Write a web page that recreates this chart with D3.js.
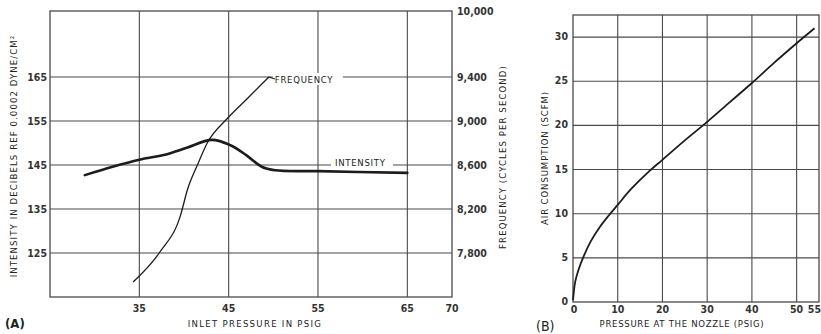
<!DOCTYPE html>
<html><head><meta charset="utf-8">
<script src="https://cdn.jsdelivr.net/npm/d3@7"></script>
<style>
body{margin:0;background:#fff;}
text{font-family:"DejaVu Sans Condensed","Liberation Sans Narrow","DejaVu Sans",sans-serif;fill:#222;}
.tk{font-weight:bold;fill:#333;}
</style></head><body>
<svg id="c" width="821" height="334"></svg>
<script>
// ---- Chart A data ----
const intensityPsig = [28.9, 32, 35, 38, 40.3, 43.1, 45.2, 47, 48.7, 50.2, 55, 65];
const intensityDb   = [142.7, 144.6, 146.2, 147.4, 148.9, 150.7, 149.5, 147.2, 144.6, 143.8, 143.6, 143.2];
const freqPsig = [34.3, 37.3, 39.6, 40.4, 41.5, 42.6, 44.9, 47.1, 49.5];
const freqHz   = [7536, 7809, 8140, 8380, 8600, 8800, 9027, 9205, 9400];
const aXTicks = [35, 45, 55, 65, 70];
const aLeftTicks = [125, 135, 145, 155, 165];
const aRightTicks = [7800, 8200, 8600, 9000, 9400, 10000];
// ---- Chart B data ----
const nozzlePsig = [0, 0.5, 1.2, 2.4, 4, 6, 8, 10, 13, 17, 20, 25, 30, 35, 40, 45, 50, 54];
const airScfm    = [0.2, 2.3, 3.6, 5.2, 6.9, 8.5, 9.8, 11, 12.8, 14.8, 16.1, 18.3, 20.4, 22.6, 24.8, 27.1, 29.3, 31];
const bXTicks = [0, 10, 20, 30, 40, 50, 55];
const bYTicks = [0, 5, 10, 15, 20, 25, 30];

const svg = d3.select("#c");
const grid = "#4a4a4a";

// ===== Chart A =====
const ax = d3.scaleLinear().domain([25, 70]).range([50, 452]);
const ay = d3.scaleLinear().domain([115, 180]).range([297, 11]);
const ayF = d3.scaleLinear().domain([7400, 10000]).range([297, 11]);
const A = svg.append("g");
A.append("rect").attr("x", ax(25)).attr("y", ay(180)).attr("width", ax(70) - ax(25)).attr("height", ay(115) - ay(180))
  .attr("fill", "none").attr("stroke", grid).attr("stroke-width", 1.3);
A.selectAll(".vg").data([35, 45, 55, 65]).join("line")
  .attr("x1", d => ax(d)).attr("x2", d => ax(d)).attr("y1", ay(180)).attr("y2", ay(115))
  .attr("stroke", grid).attr("stroke-width", 1.1);
A.selectAll(".hg").data(aLeftTicks).join("line")
  .attr("x1", ax(25)).attr("x2", ax(70)).attr("y1", d => ay(d)).attr("y2", d => ay(d))
  .attr("stroke", grid).attr("stroke-width", 1.1);
A.selectAll(".lt").data(aLeftTicks).join("text").attr("class", "tk").attr("x", 47).attr("y", d => ay(d) + 4)
  .attr("text-anchor", "end").attr("font-size", 10.5).text(d => d);
A.selectAll(".rt").data(aRightTicks).join("text").attr("class", "tk").attr("x", 457).attr("y", d => ayF(d) + 4)
  .attr("text-anchor", "start").attr("font-size", 10.5).text(d => d3.format(",")(d));
A.selectAll(".bt").data(aXTicks).join("text").attr("class", "tk").attr("x", d => ax(d)).attr("y", 312)
  .attr("text-anchor", "middle").attr("font-size", 10.5).text(d => d);
A.append("text").attr("x", 255).attr("y", 327).attr("text-anchor", "middle").attr("font-size", 9.5)
  .attr("letter-spacing", 1.3).text("INLET PRESSURE IN PSIG");
A.append("text").attr("transform", "translate(17,156) rotate(-90)").attr("text-anchor", "middle")
  .attr("font-size", 9.5).attr("letter-spacing", 1.1).text("INTENSITY IN DECIBELS REF 0.0002 DYNE/CM²");
A.append("text").attr("transform", "translate(506,157) rotate(-90)").attr("text-anchor", "middle")
  .attr("font-size", 9.5).attr("letter-spacing", 1.1).text("FREQUENCY (CYCLES PER SECOND)");
A.append("text").attr("x", 5).attr("y", 328).attr("font-size", 13).attr("font-weight", "bold").text("(A)");

const lineI = d3.line().x(d => ax(d[0])).y(d => ay(d[1])).curve(d3.curveCatmullRom);
A.append("path").datum(intensityPsig.map((p, i) => [p, intensityDb[i]])).attr("d", lineI)
  .attr("fill", "none").attr("stroke", "#1c1c1c").attr("stroke-width", 2.6).attr("stroke-linecap", "round");
const lineF = d3.line().x(d => ax(d[0])).y(d => ayF(d[1])).curve(d3.curveMonotoneX);
A.append("path").datum(freqPsig.map((p, i) => [p, freqHz[i]])).attr("d", lineF)
  .attr("fill", "none").attr("stroke", "#1c1c1c").attr("stroke-width", 1.3);
const fx = ax(freqPsig[freqPsig.length - 1]), fy = ayF(freqHz[freqHz.length - 1]);
A.append("rect").attr("x", fx + 4).attr("y", fy - 4).attr("width", 70).attr("height", 12).attr("fill", "#fff");
A.append("path").attr("d", `M${fx},${fy} L${fx + 6},${fy + 2}`).attr("stroke", "#1c1c1c").attr("stroke-width", 1.2);
A.append("text").attr("x", fx + 6).attr("y", fy + 6).attr("font-size", 9.5).attr("letter-spacing", 0.7).text("FREQUENCY");
A.append("rect").attr("x", 331).attr("y", 156).attr("width", 62).attr("height", 12).attr("fill", "#fff");
A.append("text").attr("x", 335).attr("y", 166).attr("font-size", 9.5).attr("letter-spacing", 0.7).text("INTENSITY");

// ===== Chart B =====
const bx = d3.scaleLinear().domain([0, 55]).range([573, 819]);
const by = d3.scaleLinear().domain([0, 32.5]).range([302, 15]);
const B = svg.append("g");
B.append("rect").attr("x", bx(0)).attr("y", by(32.5)).attr("width", bx(55) - bx(0)).attr("height", by(0) - by(32.5))
  .attr("fill", "none").attr("stroke", grid).attr("stroke-width", 1.3);
B.selectAll(".vg").data([10, 20, 30, 40, 50]).join("line")
  .attr("x1", d => bx(d)).attr("x2", d => bx(d)).attr("y1", by(32.5)).attr("y2", by(0))
  .attr("stroke", grid).attr("stroke-width", 1.1);
B.selectAll(".hg").data([5, 10, 15, 20, 25, 30]).join("line")
  .attr("x1", bx(0)).attr("x2", bx(55)).attr("y1", d => by(d)).attr("y2", d => by(d))
  .attr("stroke", grid).attr("stroke-width", 1.1);
B.selectAll(".yt").data(bYTicks).join("text").attr("class", "tk").attr("x", 568).attr("y", d => by(d) + 3)
  .attr("text-anchor", "end").attr("font-size", 10.5).text(d => d);
B.selectAll(".xt").data(bXTicks).join("text").attr("class", "tk")
  .attr("x", d => d === 55 ? 821 : bx(d) + (d === 0 ? 1 : 0)).attr("y", 313)
  .attr("text-anchor", d => d === 55 ? "end" : "middle").attr("font-size", 10.5).text(d => d);
B.append("text").attr("x", 682).attr("y", 327).attr("text-anchor", "middle").attr("font-size", 9.5)
  .attr("letter-spacing", 0.7).text("PRESSURE AT THE NOZZLE (PSIG)");
B.append("text").attr("transform", "translate(548,158) rotate(-90)").attr("text-anchor", "middle")
  .attr("font-size", 9.5).attr("letter-spacing", 0.9).text("AIR CONSUMPTION (SCFM)");
B.append("text").attr("x", 536).attr("y", 331).attr("font-size", 14).text("(B)");
const lineB = d3.line().x(d => bx(d[0])).y(d => by(d[1])).curve(d3.curveCatmullRom);
B.append("path").datum(nozzlePsig.map((p, i) => [p, airScfm[i]])).attr("d", lineB)
  .attr("fill", "none").attr("stroke", "#1c1c1c").attr("stroke-width", 1.8);
</script></body></html>
